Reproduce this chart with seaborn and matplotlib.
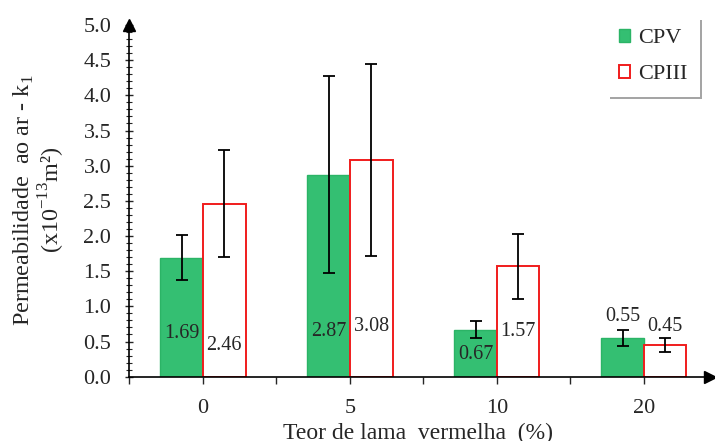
"""Permeabilidade ao ar - CPV vs CPIII."""

import matplotlib
matplotlib.use("Agg")
import matplotlib.pyplot as plt
from matplotlib.patches import Patch
from matplotlib.ticker import MultipleLocator
import pandas as pd
import seaborn as sns

# data
teor = ["0", "5", "10", "20"]
cpv = [1.69, 2.87, 0.67, 0.55]
cpiii = [2.46, 3.08, 1.57, 0.45]
cpv_err = [0.32, 1.40, 0.12, 0.11]
cpiii_err = [0.76, 1.37, 0.46, 0.10]
# where each value label sits (moved by hand in the original)
cpv_label_y = [0.62, 0.64, 0.31, 0.86]
cpiii_label_y = [0.45, 0.72, 0.64, 0.72]

df = pd.DataFrame({
    "teor": teor * 2,
    "cimento": ["CPV"] * 4 + ["CPIII"] * 4,
    "k": cpv + cpiii,
})

sns.set_style("ticks")
plt.rcParams["font.family"] = ["Liberation Serif", "DejaVu Serif"]
plt.rcParams["mathtext.fontset"] = "custom"
plt.rcParams["mathtext.rm"] = "Liberation Serif"

green = "#34bf72"
red = "#f01c1c"

fig = plt.figure(figsize=(7.15, 4.41), dpi=100)
ax = fig.add_axes([0.181, 0.1458, 0.812, 0.7975])

sns.barplot(data=df, x="teor", y="k", hue="cimento", order=teor,
            hue_order=["CPV", "CPIII"], palette=[green, "white"],
            saturation=1, width=0.58, gap=0, legend=False, ax=ax)

for bar in ax.containers[0]:
    bar.set_edgecolor("#2bb466")
    bar.set_linewidth(1)
for bar in ax.containers[1]:
    bar.set_facecolor("white")
    bar.set_edgecolor(red)
    bar.set_linewidth(1.4)

for cont, vals, errs, ly in [(ax.containers[0], cpv, cpv_err, cpv_label_y),
                             (ax.containers[1], cpiii, cpiii_err, cpiii_label_y)]:
    for bar, v, e, y in zip(cont, vals, errs, ly):
        xc = bar.get_x() + bar.get_width() / 2
        ax.errorbar(xc, v, yerr=e, fmt="none", ecolor="black",
                    elinewidth=1.3, capsize=4, capthick=1.3, zorder=5)
        ax.text(xc, y, f"{v:.2f}", ha="center", va="center", fontsize=14.5)

ax.set_xlim(-0.5, 3.45)
ax.set_ylim(0, 5.0)
ax.yaxis.set_minor_locator(MultipleLocator(0.1))
ax.set_yticks([i * 0.5 for i in range(11)])
ax.set_yticklabels([f"{i * 0.5:.1f}" for i in range(11)], fontsize=16)
ax.set_xticks(range(4))
ax.set_xticklabels(teor, fontsize=16)
ax.set_xticks([-0.5, 0.5, 1.5, 2.5], minor=True)
ax.tick_params(axis="x", which="both", length=5, width=1, pad=11)
ax.tick_params(axis="y", which="major", length=6, width=1, direction="inout", pad=10)
ax.tick_params(axis="y", which="minor", length=4, width=0.8, direction="inout")
ax.set_xlabel("")
ax.set_ylabel("")

sns.despine(ax=ax)
for s in ["left", "bottom"]:
    ax.spines[s].set_linewidth(1.2)
    ax.spines[s].set_color("black")
ax.plot(1, 0, ">k", markersize=8, transform=ax.transAxes, clip_on=False)
ax.plot(0, 1, "^k", markersize=8, transform=ax.transAxes, clip_on=False)

fig.text(0.585, 0.016, "Teor de lama  vermelha  (%)", fontsize=17,
         ha="center", va="center")
fig.text(0.055, 0.547, "Permeabilidade  ao ar - k$_1$\n(x10$^{-13}$m²)",
         fontsize=17.4, rotation=90, ha="center", va="center",
         multialignment="center", linespacing=1.05)

handles = [Patch(facecolor=green, edgecolor="#2bb466"),
           Patch(facecolor="white", edgecolor=red, linewidth=1.4)]
leg = ax.legend(handles, ["CPV", "CPIII"], loc="upper left",
                bbox_to_anchor=(607 / 715, 1 - 17 / 441),
                bbox_transform=fig.transFigure,
                fontsize=16, frameon=True, fancybox=False, shadow=True,
                handlelength=0.5, handleheight=0.5, handletextpad=0.35,
                labelspacing=0.75, borderpad=0.55, borderaxespad=0)
leg.get_frame().set_edgecolor("white")
leg.get_frame().set_linewidth(0)

fig.savefig("out.png", dpi=100)
